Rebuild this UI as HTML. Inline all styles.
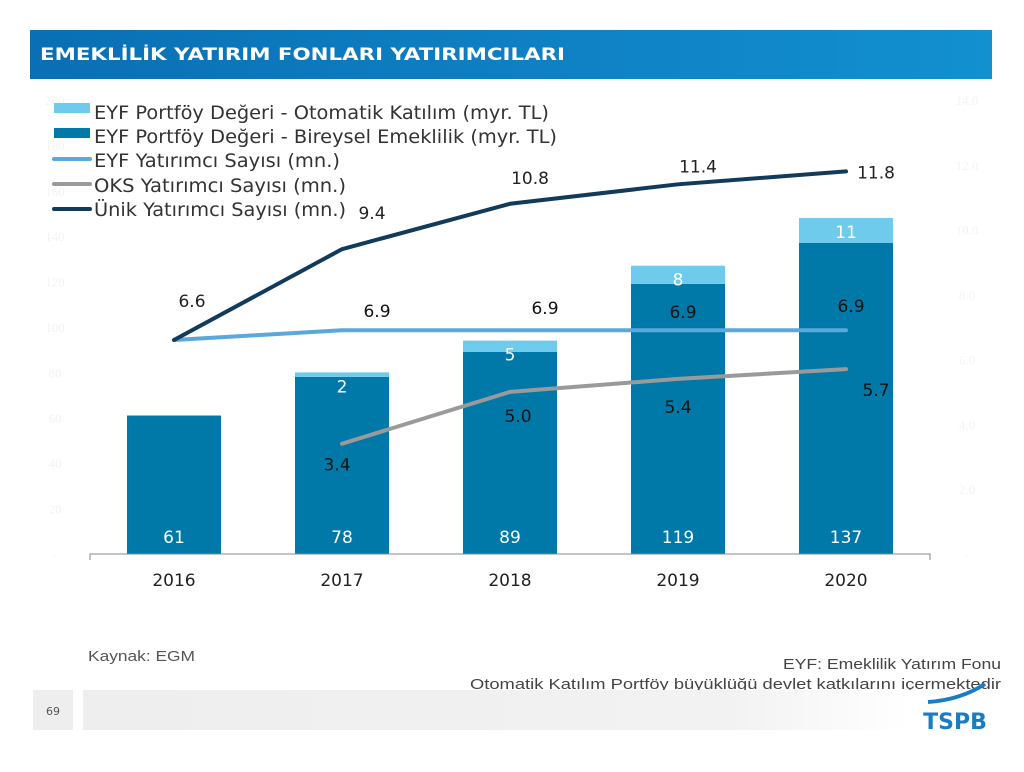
<!DOCTYPE html>
<html><head><meta charset="utf-8"><style>
body{margin:0;width:1024px;height:768px;background:#fff;overflow:hidden;font-family:"DejaVu Sans","Liberation Sans",sans-serif;}
</style></head><body>
<svg width="1024" height="768" xmlns="http://www.w3.org/2000/svg">
<defs><linearGradient id="tg" x1="0" x2="1"><stop offset="0" stop-color="#0a6fb5"/><stop offset="1" stop-color="#1290d0"/></linearGradient>
<linearGradient id="fg" x1="0" x2="1"><stop offset="0" stop-color="#eeeeee"/><stop offset="0.7" stop-color="#f2f2f2"/><stop offset="0.9" stop-color="#fff"/></linearGradient></defs>
<rect x="30" y="30" width="962" height="49" fill="url(#tg)"/>
<text x="40" y="60" fill="#fff" font-size="17" font-weight="bold" textLength="525" lengthAdjust="spacingAndGlyphs">EMEKLİLİK YATIRIM FONLARI YATIRIMCILARI</text>
<g id="chart"></g>
<g font-size="19" fill="#333">
<rect x="54" y="103" width="36" height="10" fill="#6ecbec"/>
<text x="94" y="119" textLength="455" lengthAdjust="spacingAndGlyphs">EYF Portföy Değeri - Otomatik Katılım (myr. TL)</text>
<rect x="54" y="128" width="36" height="10" fill="#0079a8"/>
<text x="94" y="143" textLength="463" lengthAdjust="spacingAndGlyphs">EYF Portföy Değeri - Bireysel Emeklilik (myr. TL)</text>
<line x1="54" y1="159" x2="90" y2="159" stroke="#5aa8dc" stroke-width="4" stroke-linecap="round"/>
<text x="94" y="167" textLength="246" lengthAdjust="spacingAndGlyphs">EYF Yatırımcı Sayısı (mn.)</text>
<line x1="54" y1="184" x2="90" y2="184" stroke="#9a9a9a" stroke-width="4" stroke-linecap="round"/>
<text x="94" y="192" textLength="252" lengthAdjust="spacingAndGlyphs">OKS Yatırımcı Sayısı (mn.)</text>
<line x1="54" y1="209" x2="90" y2="209" stroke="#123a5a" stroke-width="4" stroke-linecap="round"/>
<text x="94" y="216" textLength="252" lengthAdjust="spacingAndGlyphs">Ünik Yatırımcı Sayısı (mn.)</text>
</g>
<text x="88" y="661" font-size="15" fill="#555" font-family="Liberation Sans, sans-serif" textLength="107" lengthAdjust="spacingAndGlyphs">Kaynak: EGM</text>
<text x="783" y="669" font-size="15" fill="#444" font-family="Liberation Sans, sans-serif" textLength="218" lengthAdjust="spacingAndGlyphs">EYF: Emeklilik Yatırım Fonu</text>
<text x="470" y="689" font-size="15" fill="#444" font-family="Liberation Sans, sans-serif" textLength="531" lengthAdjust="spacingAndGlyphs">Otomatik Katılım Portföy büyüklüğü devlet katkılarını içermektedir</text>
<rect x="33" y="690" width="40" height="40" fill="#eeeeee"/>
<text x="53" y="715" font-size="11" fill="#555" text-anchor="middle">69</text>
<rect x="83" y="690" width="920" height="40" fill="url(#fg)"/>
<path d="M928 702 Q960 700 985 684" stroke="#1a7cc4" stroke-width="4" fill="none"/>
<text x="955" y="729" font-size="22" font-weight="bold" fill="#1a7cc4" text-anchor="middle">TSPB</text>
</svg>
<script>
const years=["2016","2017","2018","2019","2020"];
const bireysel=[61,78,89,119,137];
const otomatik=[0,2,5,8,11];
const eyfInv=[6.6,6.9,6.9,6.9,6.9];
const oksInv=[null,3.4,5.0,5.4,5.7];
const unikInv=[6.6,9.4,10.8,11.4,11.8];
const leftTicks=[0,20,40,60,80,100,120,140,160,180,200];
const rightTicks=[0,2,4,6,8,10,12,14];
const NS="http://www.w3.org/2000/svg";
const g=document.getElementById('chart');
const x0=90,x1=930,yB=554,yT=100;
const band=(x1-x0)/years.length;
const xc=i=>x0+band*(i+0.5);
const yL=v=>yB-(v/200)*(yB-yT);
const yR=v=>yB-(v/14)*(yB-yT);
function mk(t,a,txt){const e=document.createElementNS(NS,t);for(const k in a)e.setAttribute(k,a[k]);if(txt!==undefined)e.textContent=txt;g.appendChild(e);return e;}
leftTicks.forEach(v=>{const e=mk('text',{x:55,y:yL(v)+5,'font-size':13,fill:'#f3f3f3','text-anchor':'middle','font-family':'Liberation Serif, serif'},v===0?'-':v);

});
rightTicks.forEach(v=>{const e=mk('text',{x:967,y:yR(v)+5,'font-size':13,fill:'#f3f3f3','text-anchor':'middle','font-family':'Liberation Serif, serif'},v===0?'-':v.toFixed(1));

});
const bw=94;
years.forEach((yr,i)=>{
 const b=mk('rect',{x:xc(i)-bw/2,y:yL(bireysel[i]),width:bw,height:yB-yL(bireysel[i]),fill:'#0079a8'});
 
 
 if(otomatik[i]>0){const o=mk('rect',{x:xc(i)-bw/2,y:yL(bireysel[i]+otomatik[i]),width:bw,height:yL(bireysel[i])-yL(bireysel[i]+otomatik[i]),fill:'#6ecbec'});
 
 
 const ol=mk('text',{x:xc(i),y:yL(bireysel[i]+otomatik[i])+20,'font-size':17,fill:'#fff','text-anchor':'middle'},otomatik[i]);
 
 }
 const bl=mk('text',{x:xc(i),y:543,'font-size':17,fill:'#fff','text-anchor':'middle'},bireysel[i]);
 
 
 const xl=mk('text',{x:xc(i),y:586,'font-size':17,fill:'#222','text-anchor':'middle'},yr);
 
 
});
const ax=mk('path',{d:`M${x0} 560 V554 H${x1} V560`,stroke:'#888','stroke-width':1,fill:'none'});


function line(arr,color,name){let d='';arr.forEach((v,i)=>{if(v==null)return;d+=(d?'L':'M')+xc(i)+' '+yR(v)+' ';});
 const p=mk('path',{d:d,stroke:color,'stroke-width':4,fill:'none','stroke-linejoin':'round','stroke-linecap':'round'});
 
 }
line(oksInv,'#9a9a9a','line-oks');
line(eyfInv,'#5aa8dc','line-eyf');
line(unikInv,'#123a5a','line-unik');
const unikOff=[[18,-33],[30,-30],[20,-20],[20,-12],[30,7]];
const eyfOff=[null,[35,-13],[35,-16],[5,-12],[5,-18]];
const oksOff=[null,[-5,27],[8,30],[0,34],[30,27]];
unikInv.forEach((v,i)=>{const t=mk('text',{x:xc(i)+unikOff[i][0],y:yR(v)+unikOff[i][1],'font-size':17,fill:'#222','text-anchor':'middle'},v.toFixed(1));
 
 });
eyfInv.forEach((v,i)=>{if(!eyfOff[i])return;const t=mk('text',{x:xc(i)+eyfOff[i][0],y:yR(v)+eyfOff[i][1],'font-size':17,fill:'#111','text-anchor':'middle'},v.toFixed(1));
 
 });
oksInv.forEach((v,i)=>{if(v==null)return;const t=mk('text',{x:xc(i)+oksOff[i][0],y:yR(v)+oksOff[i][1],'font-size':17,fill:'#111','text-anchor':'middle'},v.toFixed(1));
 
 });
</script>
</body></html>
